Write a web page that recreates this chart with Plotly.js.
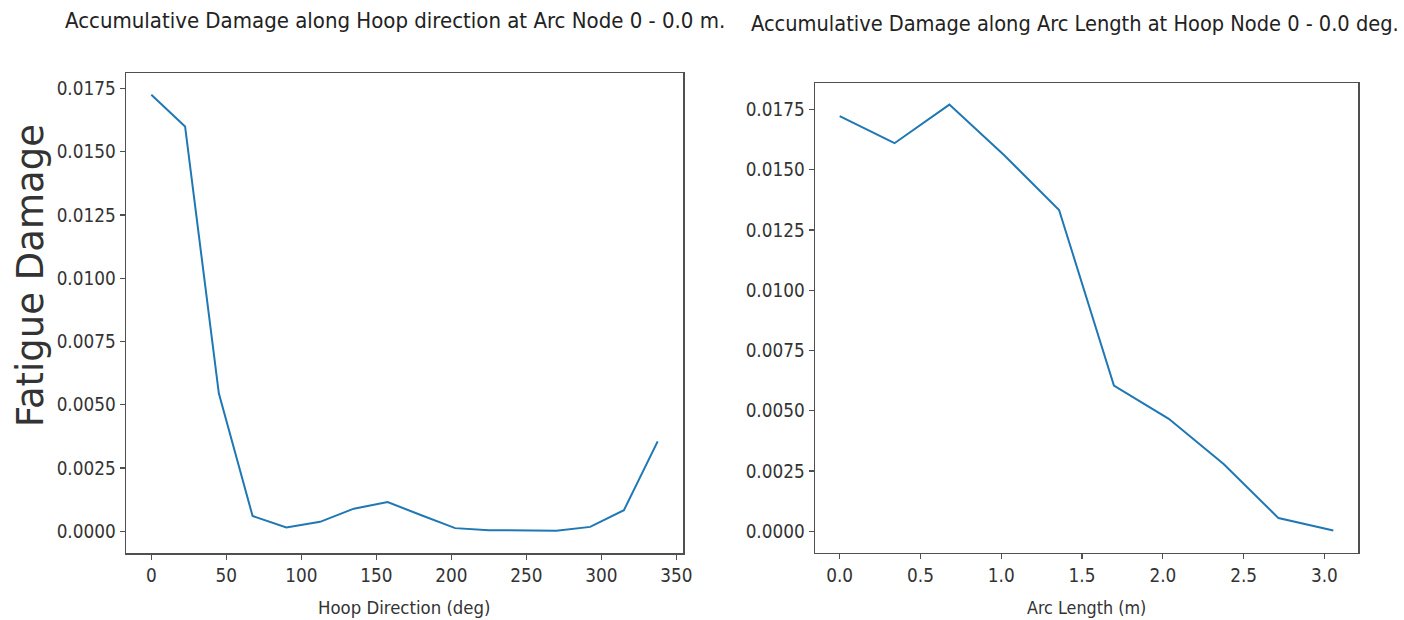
<!DOCTYPE html>
<html>
<head>
<meta charset="utf-8">
<script src="https://cdn.plot.ly/plotly-3.0.1.min.js"></script>
<style>html,body{margin:0;padding:0;background:#fff;} #chart{width:1404px;height:620px;}</style>
</head>
<body>
<div id="chart"></div>
<script>
// Left panel: damage along hoop direction
const hoopDeg = [0, 22.5, 45, 67.5, 90, 112.5, 135, 157.5, 180, 202.5, 225, 247.5, 270, 292.5, 315, 337.5];
const hoopDamage = [0.01725, 0.0160, 0.00545, 0.00060, 0.00015, 0.00037, 0.00089, 0.00115, 0.00063, 0.00012, 0.00004, 0.00002, 0.00002, 0.00017, 0.00083, 0.00355];
// Right panel: damage along arc length
const arcLen = [0, 0.3394, 0.6789, 1.0183, 1.3578, 1.6972, 2.0367, 2.3761, 2.7156, 3.055];
const arcDamage = [0.01722, 0.0161, 0.0177, 0.0156, 0.01333, 0.00605, 0.00467, 0.00279, 0.00055, 0.00004];

const leftTitle = "Accumulative Damage along Hoop direction at Arc Node 0 - 0.0 m.";
const rightTitle = "Accumulative Damage along Arc Length at Hoop Node 0 - 0.0 deg.";
const yTitle = "Fatigue Damage";
const xTitleLeft = "Hoop Direction (deg)";
const xTitleRight = "Arc Length (m)";

const FONT = "DejaVu Sans Condensed, DejaVu Sans, sans-serif";
const FONT_REG = "DejaVu Sans, sans-serif";
const W = 1404, H = 620;
const lineColor = "#1f77b4";
const frameColor = "#505050";
const tickFont = {family: FONT, size: 18.8, color: "#333333"};

function axisBase(extra) {
  return Object.assign({
    showgrid: false, zeroline: false, showline: true, mirror: true,
    linecolor: frameColor, linewidth: 1.5,
    ticks: "outside", ticklen: 5, tickwidth: 1.2, tickcolor: frameColor,
    tickfont: tickFont, automargin: false
  }, extra);
}

const traces = [
  {x: hoopDeg, y: hoopDamage, type: "scatter", mode: "lines", line: {color: lineColor, width: 2}, xaxis: "x", yaxis: "y", hoverinfo: "x+y"},
  {x: arcLen, y: arcDamage, type: "scatter", mode: "lines", line: {color: lineColor, width: 2}, xaxis: "x2", yaxis: "y2", hoverinfo: "x+y"}
];

const layout = {
  width: W, height: H,
  margin: {l: 0, r: 0, t: 0, b: 0},
  paper_bgcolor: "#ffffff", plot_bgcolor: "#ffffff",
  showlegend: false,
  xaxis: axisBase({domain: [126/W, 683/W], range: [-16.875, 354.375], tickmode: "linear", tick0: 0, dtick: 50, anchor: "y"}),
  yaxis: axisBase({domain: [(H-553)/H, (H-73)/H], range: [-0.000863, 0.018113], tickmode: "linear", tick0: 0, dtick: 0.0025, tickformat: ".4f", anchor: "x"}),
  xaxis2: axisBase({domain: [815/W, 1358/W], range: [-0.15275, 3.20775], tickmode: "linear", tick0: 0, dtick: 0.5, tickformat: ".1f", anchor: "y2"}),
  yaxis2: axisBase({domain: [(H-552.7)/H, (H-83.3)/H], range: [-0.000885, 0.018585], tickmode: "linear", tick0: 0, dtick: 0.0025, tickformat: ".4f", anchor: "x2"}),
  annotations: [
    {text: leftTitle, xref: "paper", yref: "paper", x: 394.5/W, y: (H-21)/H, xanchor: "center", yanchor: "middle", showarrow: false, font: {family: FONT, size: 22, color: "#222222"}},
    {text: rightTitle, xref: "paper", yref: "paper", x: 1075/W, y: (H-23)/H, xanchor: "center", yanchor: "middle", showarrow: false, font: {family: FONT, size: 21.6, color: "#222222"}},
    {text: yTitle, xref: "paper", yref: "paper", x: 30/W, y: (H-276)/H, xanchor: "center", yanchor: "middle", textangle: -90, showarrow: false, font: {family: FONT_REG, size: 37, color: "#333333"}},
    {text: xTitleLeft, xref: "paper", yref: "paper", x: 404/W, y: (H-607)/H, xanchor: "center", yanchor: "middle", showarrow: false, font: {family: FONT, size: 18.4, color: "#333333"}},
    {text: xTitleRight, xref: "paper", yref: "paper", x: 1086/W, y: (H-607)/H, xanchor: "center", yanchor: "middle", showarrow: false, font: {family: FONT, size: 17.8, color: "#333333"}}
  ]
};

Plotly.newPlot("chart", traces, layout, {displayModeBar: false, staticPlot: true});
</script>
</body>
</html>
